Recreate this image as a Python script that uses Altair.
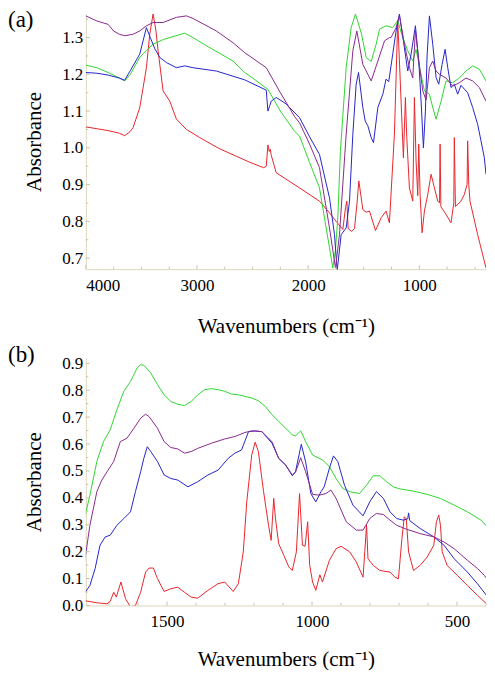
import altair as alt
import pandas as pd

# ---------------- Panel (a): full range ----------------
a_red_w = [4000, 3900, 3800, 3700, 3650, 3600, 3575, 3515, 3455, 3425, 3395, 3370, 3350, 3305, 3275, 3245,
           3185, 3095, 2976, 2800, 2527, 2400, 2377, 2362, 2350, 2340, 2332, 2287, 2200, 2077, 1898, 1808,
           1748, 1688, 1664, 1652, 1640, 1610, 1583, 1560, 1544, 1508, 1478, 1448, 1394, 1343, 1299, 1269,
           1224, 1194, 1164, 1143, 1125, 1113, 1089, 1059, 1044, 1029, 1014, 1005, 993, 975, 954, 924, 894,
           864, 834, 818, 813, 806, 760, 715, 690, 685, 675, 625, 595, 570, 565, 555, 544, 475, 400]
a_red_v = [1.057, 1.052, 1.047, 1.040, 1.033, 1.045, 1.055, 1.109, 1.218, 1.309, 1.364, 1.320, 1.264, 1.155,
           1.141, 1.127, 1.078, 1.050, 1.028, 0.998, 0.961, 0.946, 0.950, 1.008, 0.990, 0.996, 0.980, 0.932,
           0.915, 0.891, 0.855, 0.823, 0.800, 0.778, 0.837, 0.855, 0.780, 0.773, 0.780, 0.850, 0.910, 0.832,
           0.825, 0.828, 0.775, 0.810, 0.828, 0.796, 1.037, 1.346, 1.127, 0.973, 1.137, 1.030, 0.891, 0.855,
           1.137, 0.964, 0.870, 1.010, 0.873, 0.769, 0.828, 0.873, 0.928, 0.891, 0.855, 0.850, 1.010, 0.840,
           0.819, 0.796, 0.850, 1.028, 0.840, 0.855, 0.873, 0.900, 1.019, 0.900, 0.855, 0.764, 0.673]

a_green_w = [4000, 3900, 3800, 3700, 3650, 3600, 3515, 3455, 3395, 3300, 3245, 3110, 3036, 2900, 2800, 2676,
             2571, 2500, 2362, 2250, 2122, 2077, 1987, 1898, 1808, 1778, 1755, 1733, 1710, 1658, 1613, 1574,
             1520, 1478, 1433, 1388, 1358, 1299, 1239, 1194, 1149, 1104, 1059, 1029, 999, 954, 909, 879, 849,
             804, 760, 700, 640, 580, 520, 460, 400]
a_green_v = [1.225, 1.218, 1.205, 1.190, 1.182, 1.200, 1.246, 1.265, 1.282, 1.295, 1.300, 1.312, 1.300, 1.275,
             1.258, 1.236, 1.205, 1.190, 1.159, 1.100, 1.045, 1.032, 0.960, 0.891, 0.728, 0.673, 0.720, 0.810,
             0.990, 1.218, 1.327, 1.364, 1.310, 1.246, 1.235, 1.282, 1.323, 1.332, 1.327, 1.346, 1.300, 1.264,
             1.236, 1.268, 1.220, 1.155, 1.146, 1.110, 1.078, 1.127, 1.182, 1.177, 1.190, 1.209, 1.223, 1.214,
             1.182]

a_blue_w = [4000, 3900, 3800, 3700, 3650, 3600, 3515, 3455, 3420, 3380, 3335, 3275, 3185, 3110, 3036, 2826,
            2571, 2377, 2370, 2362, 2345, 2332, 2287, 2200, 2077, 1987, 1898, 1808, 1763, 1739, 1703, 1658,
            1628, 1598, 1568, 1547, 1508, 1487, 1463, 1433, 1412, 1373, 1328, 1299, 1275, 1239, 1209, 1179,
            1143, 1104, 1074, 1035, 1005, 984, 963, 945, 930, 909, 879, 849, 825, 795, 768, 744, 715, 685,
            655, 625, 595, 565, 520, 475, 445, 415, 400]
a_blue_v = [1.205, 1.203, 1.198, 1.190, 1.184, 1.210, 1.255, 1.327, 1.300, 1.270, 1.246, 1.232, 1.218, 1.223,
            1.218, 1.209, 1.185, 1.157, 1.130, 1.100, 1.115, 1.127, 1.137, 1.120, 1.082, 1.030, 0.982, 0.864,
            0.764, 0.666, 0.764, 0.782, 0.855, 1.037, 1.173, 1.205, 1.110, 1.073, 1.060, 1.028, 1.014, 1.110,
            1.146, 1.187, 1.180, 1.255, 1.318, 1.364, 1.291, 1.209, 1.255, 1.332, 1.236, 1.127, 1.000, 1.100,
            1.250, 1.359, 1.282, 1.191, 1.173, 1.227, 1.268, 1.218, 1.164, 1.173, 1.146, 1.170, 1.160, 1.150,
            1.110, 1.064, 1.019, 0.973, 0.928]

a_purple_w = [4000, 3900, 3800, 3750, 3700, 3650, 3575, 3515, 3455, 3395, 3305, 3185, 3095, 3036, 2900, 2826,
              2676, 2571, 2377, 2250, 2122, 2077, 1987, 1898, 1808, 1754, 1718, 1658, 1598, 1562, 1508, 1433,
              1373, 1313, 1269, 1254, 1209, 1179, 1134, 1089, 1059, 1035, 1010, 969, 939, 909, 879, 849, 819,
              760, 700, 640, 580, 520, 460, 400]
a_purple_v = [1.359, 1.345, 1.336, 1.318, 1.309, 1.305, 1.309, 1.318, 1.332, 1.341, 1.341, 1.355, 1.359, 1.352,
              1.330, 1.318, 1.286, 1.259, 1.218, 1.150, 1.085, 1.068, 1.010, 0.946, 0.782, 0.673, 0.764, 1.037,
              1.264, 1.318, 1.227, 1.182, 1.236, 1.291, 1.300, 1.300, 1.327, 1.359, 1.282, 1.218, 1.190, 1.320,
              1.250, 1.155, 1.130, 1.218, 1.236, 1.209, 1.200, 1.190, 1.168, 1.177, 1.190, 1.182, 1.164, 1.127]

# ---------------- Panel (b): fingerprint region ----------------
b_green_w = [1786, 1766, 1742, 1719, 1696, 1673, 1649, 1626, 1603, 1591, 1580, 1556, 1533, 1510, 1487, 1463,
             1440, 1417, 1394, 1370, 1347, 1324, 1301, 1278, 1254, 1231, 1208, 1185, 1161, 1138, 1115, 1091,
             1068, 1057, 1039, 1022, 998, 964, 940, 917, 894, 870, 836, 812, 789, 766, 743, 720, 696, 650,
             603, 557, 510, 464, 417, 398]
b_green_v = [0.317, 0.410, 0.535, 0.609, 0.653, 0.727, 0.796, 0.833, 0.883, 0.895, 0.893, 0.864, 0.821, 0.783,
             0.758, 0.748, 0.743, 0.758, 0.783, 0.802, 0.806, 0.802, 0.796, 0.786, 0.783, 0.777, 0.771, 0.761,
             0.740, 0.709, 0.684, 0.659, 0.634, 0.630, 0.649, 0.609, 0.559, 0.541, 0.516, 0.472, 0.435, 0.423,
             0.416, 0.447, 0.482, 0.482, 0.460, 0.441, 0.433, 0.425, 0.413, 0.398, 0.373, 0.348, 0.317, 0.295]

b_purple_w = [1786, 1766, 1742, 1725, 1707, 1684, 1661, 1638, 1614, 1591, 1574, 1562, 1533, 1510, 1487, 1463,
              1440, 1417, 1394, 1347, 1301, 1266, 1231, 1208, 1173, 1138, 1115, 1091, 1068, 1057, 1039, 1022,
              998, 975, 952, 935, 917, 882, 847, 824, 801, 778, 754, 731, 708, 673, 627, 580, 545, 510, 464,
              429, 406, 398]
b_purple_v = [0.149, 0.298, 0.423, 0.466, 0.497, 0.535, 0.609, 0.622, 0.659, 0.696, 0.711, 0.702, 0.659, 0.609,
              0.587, 0.582, 0.566, 0.572, 0.584, 0.603, 0.619, 0.628, 0.643, 0.649, 0.646, 0.609, 0.547, 0.522,
              0.485, 0.495, 0.549, 0.497, 0.413, 0.410, 0.416, 0.429, 0.398, 0.311, 0.280, 0.280, 0.323, 0.342,
              0.338, 0.317, 0.298, 0.283, 0.267, 0.255, 0.236, 0.211, 0.168, 0.137, 0.112, 0.100]

b_blue_w = [1786, 1766, 1748, 1731, 1713, 1696, 1673, 1649, 1626, 1609, 1591, 1580, 1568, 1556, 1533, 1510,
            1487, 1463, 1428, 1394, 1359, 1324, 1289, 1266, 1243, 1219, 1196, 1173, 1138, 1115, 1091, 1068,
            1057, 1037, 1022, 1004, 987, 969, 958, 940, 926, 911, 888, 859, 824, 801, 778, 754, 731, 708, 685,
            670, 667, 663, 627, 580, 545, 510, 464, 429, 398]
b_blue_v = [0.043, 0.074, 0.137, 0.224, 0.255, 0.261, 0.298, 0.323, 0.348, 0.423, 0.497, 0.547, 0.590, 0.572,
            0.535, 0.485, 0.472, 0.466, 0.441, 0.460, 0.485, 0.503, 0.547, 0.566, 0.578, 0.646, 0.649, 0.646,
            0.603, 0.547, 0.522, 0.482, 0.497, 0.599, 0.534, 0.416, 0.385, 0.423, 0.441, 0.510, 0.556, 0.535,
            0.447, 0.373, 0.333, 0.385, 0.423, 0.398, 0.348, 0.323, 0.317, 0.322, 0.344, 0.315, 0.286, 0.255,
            0.224, 0.174, 0.124, 0.080, 0.037]

b_red_w = [1786, 1742, 1707, 1696, 1684, 1675, 1659, 1643, 1626, 1609, 1591, 1574, 1562, 1547, 1533, 1510,
           1487, 1463, 1440, 1417, 1394, 1359, 1324, 1301, 1272, 1254, 1237, 1225, 1208, 1196, 1185, 1167,
           1150, 1141, 1132, 1126, 1115, 1097, 1080, 1068, 1054, 1043, 1033, 1024, 1015, 1008, 998, 987, 973,
           964, 940, 917, 900, 870, 847, 824, 818, 812, 807, 789, 766, 731, 714, 702, 690, 682, 675, 667, 650,
           627, 603, 580, 571, 563, 557, 551, 534, 499, 464, 429, 398]
b_red_v = [0.018, 0.010, 0.006, 0.015, 0.049, 0.031, 0.087, 0.025, -0.006, 0.000, 0.049, 0.124, 0.139, 0.139,
           0.100, 0.052, 0.062, 0.068, 0.049, 0.031, 0.027, 0.056, 0.081, 0.087, 0.052, 0.081, 0.199, 0.385,
           0.559, 0.607, 0.572, 0.423, 0.298, 0.242, 0.398, 0.323, 0.230, 0.186, 0.143, 0.130, 0.199, 0.416,
           0.224, 0.220, 0.311, 0.149, 0.087, 0.056, 0.114, 0.087, 0.168, 0.211, 0.220, 0.199, 0.161, 0.105,
           0.199, 0.300, 0.174, 0.149, 0.130, 0.124, 0.105, 0.099, 0.248, 0.329, 0.323, 0.199, 0.130, 0.149,
           0.180, 0.224, 0.311, 0.336, 0.298, 0.199, 0.149, 0.112, 0.074, 0.037, 0.006]

# ---------------- Axis / tick values ----------------
series_names = ["red", "green", "blue", "purple"]
a_colors = ["#e8262c", "#2fd62f", "#2525cc", "#8a2a8e"]
b_colors = ["#e24c4c", "#48cc48", "#5c5cd0", "#a24ac2"]
panel_labels = ["(a)", "(b)"]

a_x_labels = [4000, 3000, 2000, 1000]
a_x_minor = [3750, 3500, 3250, 2750, 2500, 2250, 1750, 1500, 1250, 750, 500]
a_y_labels = [0.7, 0.8, 0.9, 1.0, 1.1, 1.2, 1.3]
a_y_minor = [0.75, 0.85, 0.95, 1.05, 1.15, 1.25, 1.35]

b_x_labels = [1500, 1000, 500]
b_x_minor = [1700, 1600, 1400, 1300, 1200, 1100, 900, 800, 700, 600, 400]
b_y_labels = [0.0, 0.1, 0.2, 0.3, 0.4, 0.5, 0.6, 0.7, 0.8, 0.9]
b_y_minor = [0.05, 0.15, 0.25, 0.35, 0.45, 0.55, 0.65, 0.75, 0.85]

FONT = "Liberation Serif"
TICK_COLOR = "#c9c5a6"
DOMAIN_COLOR = "#dcd8bc"
X_TITLE = "Wavenumbers (cm\u207b\u00b9)"


def long_df(series):
    rows = []
    for name, ws, vs in series:
        for w, v in zip(ws, vs):
            rows.append({"w": w, "v": v, "s": name})
    return pd.DataFrame(rows)


def make_axis(values, title, fmt, label_pad, title_pad):
    return alt.Axis(values=values, title=title, format=fmt, labelPadding=label_pad, titlePadding=title_pad,
                    grid=False, ticks=False, domainColor=DOMAIN_COLOR, domainWidth=1,
                    labelFont=FONT, labelFontSize=17, labelColor="black",
                    titleFont=FONT, titleFontSize=21, titleFontWeight="normal", titleColor="black")


def panel(df, colors, xdom, ydom, W, H, xlab, xminor, ylab, yminor, label, label_y, xtitle_pad):
    xs = alt.Scale(domain=xdom, reverse=True, nice=False, zero=False)
    ys = alt.Scale(domain=ydom, nice=False, zero=False)
    xax = make_axis(xlab, X_TITLE, "d", 8, xtitle_pad)
    yax = make_axis(ylab, "Absorbance", ".1f", 3, 17)
    lines = alt.Chart(df).mark_line(strokeWidth=1, clip=True).encode(
        x=alt.X("w:Q", scale=xs, axis=xax),
        y=alt.Y("v:Q", scale=ys, axis=yax),
        color=alt.Color("s:N", scale=alt.Scale(domain=series_names, range=colors), legend=None),
        detail="s:N",
    )
    layers = [lines]
    for vals, size in ((xlab, 4), (xminor, 2.5)):
        layers.append(alt.Chart(pd.DataFrame({"w": vals})).mark_rule(color=TICK_COLOR, strokeWidth=1).encode(
            x=alt.X("w:Q", scale=xs, axis=xax), y=alt.value(H), y2=alt.value(H - size)))
    for vals, size in ((ylab, 4), (yminor, 2.5)):
        layers.append(alt.Chart(pd.DataFrame({"v": vals})).mark_rule(color=TICK_COLOR, strokeWidth=1).encode(
            y=alt.Y("v:Q", scale=ys, axis=yax), x=alt.value(0), x2=alt.value(size)))
    layers.append(alt.Chart(pd.DataFrame({"lab": [label]})).mark_text(
        align="left", baseline="top", font=FONT, fontSize=23, color="black").encode(
        text="lab:N", x=alt.value(-78), y=alt.value(label_y)))
    return alt.layer(*layers).properties(width=W, height=H)


df_a = long_df([("red", a_red_w, a_red_v), ("green", a_green_w, a_green_v),
                ("blue", a_blue_w, a_blue_v), ("purple", a_purple_w, a_purple_v)])
df_b = long_df([("red", b_red_w, b_red_v), ("green", b_green_w, b_green_v),
                ("blue", b_blue_w, b_blue_v), ("purple", b_purple_w, b_purple_v)])

pa = panel(df_a, a_colors, [400, 4000], [0.67, 1.365], 401, 256,
           a_x_labels, a_x_minor, a_y_labels, a_y_minor, panel_labels[0], -5, 22)
pb = panel(df_b, b_colors, [400, 1780], [0.0, 0.92], 401, 248,
           b_x_labels, b_x_minor, b_y_labels, b_y_minor, panel_labels[1], -14, 19)

chart = alt.vconcat(pa, pb, spacing=8).properties(padding=0).configure_view(stroke=None)

chart.save("out.html", embed_options={"renderer": "svg", "actions": False})
